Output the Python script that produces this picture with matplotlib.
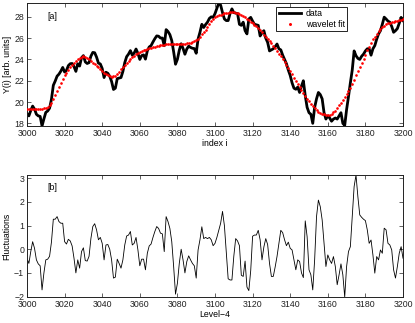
import matplotlib
matplotlib.use("Agg")
import matplotlib.pyplot as plt
import numpy as np

plt.rcParams['font.family'] = ['Liberation Sans', 'DejaVu Sans']

start_index = 3000

wavelet_fit = [
    19.30, 19.30, 19.30, 19.30, 19.30, 19.30, 19.32, 19.35, 19.38, 19.42,
    19.48, 19.58, 19.72, 19.95, 20.30, 20.70, 21.05, 21.45, 21.80, 22.15,
    22.50, 22.75, 23.00, 23.25, 23.48, 23.70, 23.88, 24.05, 24.18, 24.26,
    24.30, 24.25, 24.12, 24.00, 23.85, 23.70, 23.55, 23.40, 23.25, 23.08,
    22.90, 22.75, 22.62, 22.50, 22.42, 22.38, 22.40, 22.48, 22.62, 22.85,
    23.10, 23.32, 23.52, 23.70, 23.90, 24.08, 24.22, 24.35, 24.48, 24.60,
    24.70, 24.78, 24.85, 24.90, 24.97, 25.03, 25.08, 25.14, 25.20, 25.25,
    25.30, 25.33, 25.36, 25.39, 25.42, 25.45, 25.45, 25.45, 25.45, 25.45,
    25.45, 25.46, 25.47, 25.48, 25.49, 25.50, 25.53, 25.58, 25.65, 25.72,
    25.80, 25.95, 26.15, 26.35, 26.55, 26.78, 27.05, 27.35, 27.60, 27.80,
    27.97, 28.06, 28.15, 28.22, 28.28, 28.33, 28.37, 28.40, 28.43, 28.44,
    28.44, 28.40, 28.33, 28.25, 28.17, 28.08, 27.96, 27.84, 27.70, 27.55,
    27.40, 27.27, 27.15, 26.95, 26.75, 26.55, 26.32, 26.10, 25.90, 25.70,
    25.50, 25.30, 25.05, 24.80, 24.55, 24.30, 24.05, 23.78, 23.50, 23.20,
    22.90, 22.60, 22.30, 22.00, 21.70, 21.40, 21.12, 20.85, 20.58, 20.32,
    20.08, 19.85, 19.62, 19.42, 19.25, 19.10, 18.98, 18.90, 18.85, 18.82,
    18.80, 18.82, 18.90, 19.02, 19.20, 19.42, 19.68, 19.95, 20.20, 20.45,
    20.72, 21.02, 21.35, 21.72, 22.10, 22.50, 22.88, 23.25, 23.65, 24.05,
    24.45, 24.85, 25.20, 25.55, 25.88, 26.15, 26.42, 26.68, 26.90, 27.05,
    27.18, 27.30, 27.38, 27.45, 27.50, 27.55, 27.60, 27.65, 27.70, 27.75,
    27.80,
]

data = [
    18.92, 18.70, 19.20, 19.62, 19.34, 18.85, 18.70, 18.65, 17.75, 18.42,
    19.03, 19.16, 19.42, 20.25, 21.57, 21.97, 22.43, 22.62, 22.90, 23.25,
    22.82, 22.97, 23.42, 23.60, 23.62, 23.32, 22.88, 23.60, 23.38, 24.16,
    24.36, 23.77, 23.62, 23.70, 24.31, 24.66, 24.63, 24.22, 23.65, 23.58,
    23.15, 22.30, 22.80, 22.70, 22.42, 21.93, 21.18, 21.30, 22.20, 22.25,
    22.30, 22.87, 23.70, 24.26, 24.50, 24.83, 24.40, 24.60, 24.98, 24.57,
    24.00, 24.36, 24.43, 24.03, 24.80, 25.17, 25.30, 25.64, 25.95, 26.21,
    26.18, 26.01, 26.01, 25.29, 26.80, 26.62, 26.33, 25.77, 24.72, 23.55,
    24.01, 24.86, 25.47, 25.03, 24.49, 24.98, 25.25, 25.13, 25.05, 25.02,
    24.58, 25.92, 26.55, 27.30, 27.00, 27.28, 27.50, 27.85, 28.00, 27.95,
    28.30, 28.80, 29.30, 29.10, 28.40, 27.80, 27.65, 27.65, 28.30, 28.75,
    28.40, 28.35, 28.30, 27.30, 27.20, 27.50, 26.70, 26.40, 27.80, 27.95,
    27.60, 27.30, 27.25, 27.20, 26.20, 26.50, 26.70, 26.00, 25.60, 24.80,
    24.90, 25.00, 25.20, 25.45, 25.00, 24.90, 24.40, 24.00, 23.60, 23.00,
    22.50, 21.80, 21.30, 21.20, 21.40, 20.90, 21.50, 22.00, 20.60, 19.50,
    19.00, 18.85, 18.00, 19.50, 20.30, 20.90, 20.70, 20.30, 19.00, 18.40,
    18.70, 18.50, 18.20, 18.40, 18.50, 18.40, 18.70, 19.00, 18.00, 17.80,
    19.30, 20.50, 21.80, 23.00, 24.80, 24.35, 24.10, 24.00, 24.30, 24.50,
    24.80, 25.00, 25.00, 24.40, 25.00, 25.30, 25.90, 26.40, 26.70, 27.30,
    27.97, 27.80, 27.60, 27.50, 27.10, 26.55, 26.70, 26.90, 27.40, 27.95,
    27.65,
]

fluctuations = [
    -0.38, -0.60, -0.10, 0.32, 0.04, -0.45, -0.62, -0.70, -1.72, -1.00,
    -0.45, -0.42, -0.30, 0.30, 1.27, 1.27, 1.38, 1.17, 1.10, 1.10,
    0.32, 0.22, 0.42, 0.35, 0.14, -0.38, -1.00, -0.45, -0.80, -0.10,
    0.06, -0.48, -0.50, -0.30, 0.46, 0.96, 1.08, 0.82, 0.40, 0.50,
    0.25, -0.45, 0.18, 0.20, 0.00, -0.45, -1.22, -1.18, -0.42, -0.60,
    -0.80, -0.45, 0.18, 0.56, 0.60, 0.75, 0.18, 0.25, 0.50, -0.03,
    -0.70, -0.42, -0.42, -0.87, -0.17, 0.14, 0.22, 0.50, 0.75, 0.96,
    0.88, 0.68, 0.65, -0.10, 1.38, 1.17, 0.88, 0.32, -0.73, -1.90,
    -1.44, -0.60, 0.00, -0.45, -1.00, -0.52, -0.28, -0.45, -0.60, -0.70,
    -1.22, -0.03, 0.40, 0.95, 0.45, 0.50, 0.45, 0.50, 0.40, 0.15,
    0.25, 0.50, 0.80, 1.10, 1.60, 1.00, -0.10, -1.25, -1.30, -1.30,
    -0.30, 0.45, 0.35, 0.15, -1.10, -1.15, -0.50, -1.60, -1.75, -0.90,
    0.55, 0.60, 0.60, 0.80, 0.40, -0.45, 0.10, 0.45, 0.20, -0.60,
    -1.15, -1.15, -0.75, -0.30, 0.25, 0.80, 0.70, 0.40, 0.15, 0.30,
    0.04, -0.03, -0.45, -0.87, -0.45, -0.52, -1.00, -1.20, 1.20, 0.53,
    -0.87, -1.08, -1.72, -0.45, 1.38, 2.08, 1.80, 1.24, 0.25, -0.73,
    -0.24, -0.45, -0.60, -0.31, -0.73, -1.50, -1.08, -0.62, -1.08, -2.02,
    -0.73, -0.10, 0.11, 1.38, 2.65, 3.14, 2.22, 1.45, 1.35, 1.27,
    1.21, 0.82, 0.25, 0.39, -0.24, -1.01, -0.31, -0.45, -0.03, -0.17,
    0.89, 0.82, 0.25, 0.18, -0.03, -0.87, -1.22, -0.73, -0.17, 0.11,
    -0.38,
]

x_ticks = list(range(3000, 3201, 20))
y_ticks_a = [18, 20, 22, 24, 26, 28]
y_ticks_b = [-2, -1, 0, 1, 2, 3]

idx = np.arange(start_index, start_index + len(data))

fig = plt.figure(figsize=(4.15, 3.23), dpi=100)
W, H = 415, 323
ax1 = fig.add_axes([27 / W, 1 - 126 / H, 376 / W, 123 / H])
ax2 = fig.add_axes([27 / W, 1 - 297 / H, 376 / W, 122 / H])

fs = 6.3

ax1.plot(idx, data, color='black', lw=2.0, label='data', zorder=2)
ax1.plot(idx, wavelet_fit, linestyle='none', marker='o', ms=0.9,
         color='red', mec='red', label='wavelet fit', zorder=3)
ax1.set_xlim(3000, 3200)
ax1.set_ylim(min(data), max(data))
ax1.set_xticks(x_ticks)
ax1.set_yticks(y_ticks_a)
ax1.set_xlabel('index i', fontsize=fs, labelpad=1)
ax1.set_ylabel('Y(i) [arb. units]', fontsize=fs, labelpad=2)
ax1.text(0.053, 0.894, '[a]', transform=ax1.transAxes, fontsize=fs,
         va='center', ha='left')
leg = ax1.legend(loc='upper left', bbox_to_anchor=(0.662, 0.97),
                 fontsize=fs, frameon=True, fancybox=False, framealpha=1,
                 edgecolor='black', handlelength=2.6, borderpad=0.3,
                 labelspacing=0.15, handletextpad=0.5, borderaxespad=0,
                 markerscale=1.3)
leg.get_frame().set_linewidth(0.6)

ax2.plot(idx, fluctuations, color='black', lw=0.6)
ax2.set_xlim(3000, 3200)
ax2.set_ylim(min(fluctuations), max(fluctuations))
ax2.set_xticks(x_ticks)
ax2.set_yticks(y_ticks_b)
ax2.set_xlabel('Level\u22124', fontsize=fs, labelpad=1)
ax2.set_ylabel('Fluctuations', fontsize=fs, labelpad=2)
ax2.text(0.053, 0.90, '[b]', transform=ax2.transAxes, fontsize=fs,
         va='center', ha='left')

for ax in (ax1, ax2):
    ax.tick_params(direction='in', length=3, width=0.5, labelsize=fs,
                   top=True, right=True, pad=2, colors='#222222')
    for s in ax.spines.values():
        s.set_linewidth(0.7)
        s.set_color('#222222')

fig.savefig('out.png', dpi=100)
